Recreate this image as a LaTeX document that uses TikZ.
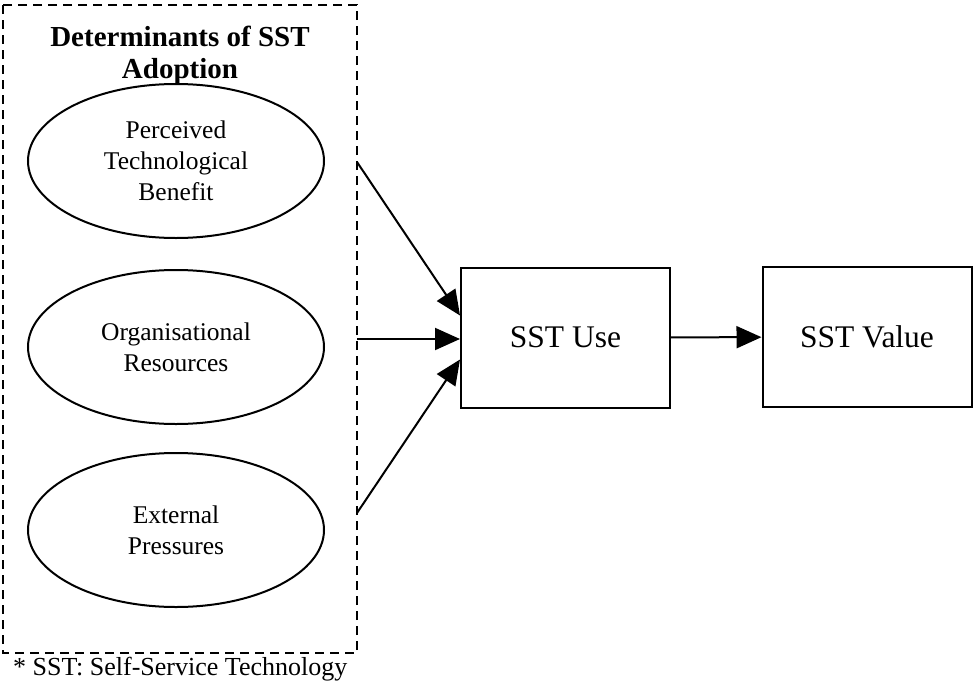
\documentclass[tikz,border=0pt]{standalone}
\usepackage{fontspec}
\setmainfont{Liberation Serif}
\usetikzlibrary{shapes.geometric,arrows.meta}

\tikzset{
    factor/.style={ellipse,draw,line width=2pt,minimum width=296,minimum height=154,
        inner sep=0pt,align=center,font=\fontsize{25.5}{31}\selectfont},
    construct/.style={rectangle,draw,line width=2pt,minimum width=209,minimum height=140,
        font=\fontsize{31.5}{36}\selectfont},
    link/.style={line width=2pt,-{Triangle[length=25pt,width=22pt]}}
}

\begin{document}
\begin{tikzpicture}[x=1pt,y=-1pt]
            \useasboundingbox (0,0) rectangle (974,680);
            % Dashed frame
            \draw[dashed,line width=2pt,dash pattern=on 9pt off 6pt] (3,5) rectangle (357,653);
            \node[font=\fontsize{29}{32}\selectfont\bfseries,align=center] (title) at (180,55)
                {Determinants of SST\\Adoption};
            
            % Determinants
            \node[factor] (ptb) at (176,161) {Perceived\\Technological\\Benefit};
            \node[factor] (org) at (176,347) {Organisational\\Resources};
            \node[factor] (ext) at (176,530) {External\\Pressures};
            
            % Outcomes
            \node[construct] (use) at (565.5,337.5) {SST Use};
            \node[construct] (val) at (867,337) {SST Value};
            
            % Arrow starts on the frame
            \coordinate (s1) at (357,162);
            \coordinate (s2) at (357,339);
            \coordinate (s3) at (357,513);
            
            % Arrows
            \draw[link] (s1) -- ([yshift=22pt]use.west);
            \draw[link] (s2) -- ([yshift=-1.5pt]use.west);
            \draw[link] (s3) -- ([yshift=-22pt]use.west);
            \draw[link] (use) -- (val);
            
            % Footnote
            \node[anchor=base west,inner sep=0pt,font=\fontsize{26}{30}\selectfont] (note) at (13,675)
                {* SST: Self-Service Technology};
        \end{tikzpicture}
\end{document}
